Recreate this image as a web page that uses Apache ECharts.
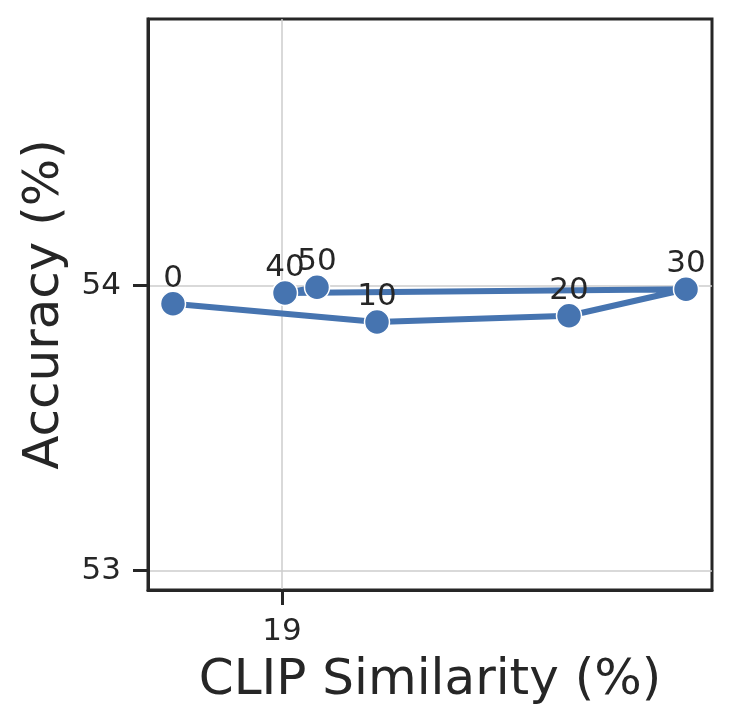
<!DOCTYPE html>
<html>
<head>
<meta charset="utf-8">
<script src="https://cdn.jsdelivr.net/npm/echarts@6/dist/echarts.min.js"></script>
<style>
html, body { margin: 0; padding: 0; background: #fff; }
#main { width: 732px; height: 728px; }
</style>
</head>
<body>
<div id="main"></div>
<script>
// point labels (step), CLIP similarity and accuracy
var steps = ['0', '10', '20', '30', '40', '50'];
var clipSim = [18.891, 19.095, 19.287, 19.404, 19.003, 19.035];
var accuracy = [53.936, 53.872, 53.894, 53.987, 53.974, 53.994];
var xTicks = [19];
var yTicks = [53, 54];

var ink = '#262626';
var font = 'DejaVu Sans';

var points = steps.map(function (s, i) {
    return { value: [clipSim[i], accuracy[i]], name: s };
});

var chart = echarts.init(document.getElementById('main'));
chart.setOption({
    animation: false,
    backgroundColor: '#fff',
    grid: {
        left: 148, top: 19, right: 20, bottom: 138,
        show: true, borderColor: ink, borderWidth: 3
    },
    xAxis: {
        type: 'value',
        min: 18.866,
        max: 19.430,
        name: 'CLIP Similarity (%)',
        nameLocation: 'middle',
        nameGap: 66,
        nameTextStyle: { fontFamily: font, fontSize: 50, color: ink },
        axisLine: { show: true, onZero: false, lineStyle: { color: ink, width: 3 } },
        axisTick: { show: true, customValues: xTicks, length: 15, lineStyle: { color: ink, width: 3 } },
        axisLabel: {
            customValues: xTicks, margin: 26,
            fontFamily: font, fontSize: 31, color: ink,
            formatter: function (v) { return String(v); }
        },
        splitLine: { show: true, lineStyle: { color: '#cccccc', width: 1.5 } }
    },
    yAxis: {
        type: 'value',
        min: 52.932,
        max: 54.935,
        name: 'Accuracy (%)',
        nameLocation: 'middle',
        nameGap: 78,
        nameTextStyle: { fontFamily: font, fontSize: 50, color: ink },
        axisLine: { show: true, onZero: false, lineStyle: { color: ink, width: 3 } },
        axisTick: { show: true, customValues: yTicks, length: 15, lineStyle: { color: ink, width: 3 } },
        axisLabel: {
            customValues: yTicks, margin: 27,
            fontFamily: font, fontSize: 31, color: ink,
            formatter: function (v) { return String(v); }
        },
        splitLine: { show: true, lineStyle: { color: '#cccccc', width: 1.5 } }
    },
    series: [{
        type: 'line',
        data: points,
        symbol: 'circle',
        symbolSize: 25,
        lineStyle: { color: '#4674b0', width: 6 },
        itemStyle: { color: '#4674b0', borderColor: '#fff', borderWidth: 1.5 },
        label: {
            show: true,
            position: 'inside',
            offset: [0, -25],
            formatter: function (p) { return p.name; },
            fontFamily: font, fontSize: 31, color: ink
        },
        z: 3
    }]
});
</script>
</body>
</html>
